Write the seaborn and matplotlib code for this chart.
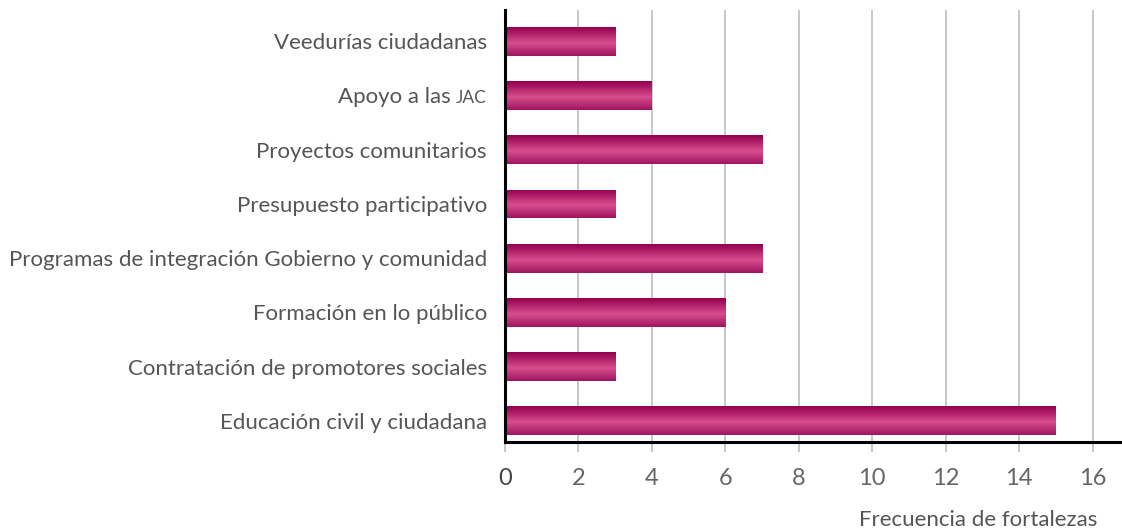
import numpy as np
import pandas as pd
import matplotlib
matplotlib.use("Agg")
import matplotlib.pyplot as plt
from matplotlib.colors import LinearSegmentedColormap
from matplotlib.transforms import offset_copy
import seaborn as sns

categories = [
    "Veedurías ciudadanas",
    "Apoyo a las JAC",
    "Proyectos comunitarios",
    "Presupuesto participativo",
    "Programas de integración Gobierno y comunidad",
    "Formación en lo público",
    "Contratación de promotores sociales",
    "Educación civil y ciudadana",
]
values = [3, 4, 7, 3, 7, 6, 3, 15]
xticks = [0, 2, 4, 6, 8, 10, 12, 14, 16]
xlabel = "Frecuencia de fortalezas"

df = pd.DataFrame({"cat": categories, "val": values})

sns.set_theme(style="white")
plt.rcParams["font.family"] = ["Lato", "DejaVu Sans"]
TXT = "#555555"
FS = 16

fig = plt.figure(figsize=(11.22, 5.29), dpi=100)
ax = fig.add_axes([505 / 1122, 87 / 529, 1 - 505 / 1122, (442 - 10) / 529])

sns.barplot(data=df, y="cat", x="val", orient="h", color="#C0306F",
            width=0.53, ax=ax, zorder=3)

XL = (0, 16.8)
YL = (7.39, -0.58)
ax.set_xlim(*XL)
ax.set_ylim(*YL)
ax.set_xticks(xticks)
ax.set_xticklabels([str(t) for t in xticks])
ax.grid(axis="x", color="#b8b8b8", lw=1.1, zorder=0)
ax.set_axisbelow(True)
ax.grid(axis="y", visible=False)

for s in ["top", "right"]:
    ax.spines[s].set_visible(False)
for s in ["left", "bottom"]:
    ax.spines[s].set_color("black")
    ax.spines[s].set_linewidth(2.2)
    ax.spines[s].set_zorder(5)

ax.tick_params(axis="x", length=7, width=1.1, color="#b8b8b8", pad=12,
               labelsize=17, labelcolor="#666666", bottom=True)
ax.tick_params(axis="y", length=0, pad=13, labelsize=FS, labelcolor=TXT)
ax.get_xticklabels()[0].set_color("#444444")

ax.set_ylabel("")
ax.set_xlabel("")
ax.text((1097 - 505) / 617, (442 - 520) / 432, xlabel, transform=ax.transAxes,
        ha="right", va="center", fontsize=FS, color=TXT)

# gradient fill on bars
cmap = LinearSegmentedColormap.from_list(
    "grad", [(0.0, "#930050"), (0.55, "#D84D8C"), (1.0, "#A01560")])
grad = np.linspace(0, 1, 64).reshape(-1, 1)
for p in ax.patches:
    x0, y0 = p.get_x(), p.get_y()
    w, h = p.get_width(), p.get_height()
    im = ax.imshow(grad, cmap=cmap, aspect="auto",
                   extent=[x0, x0 + w, y0 + h, y0], zorder=4,
                   interpolation="bilinear")
    im.set_clip_path(p)
    p.set_edgecolor("none")
ax.set_xlim(*XL)
ax.set_ylim(*YL)

# small caps "JAC"
idx = categories.index("Apoyo a las JAC")
ax.set_yticks(range(len(categories)))
ax.set_yticklabels([c if i != idx else "" for i, c in enumerate(categories)])
fig.canvas.draw()
r = fig.canvas.get_renderer()
base_dy = -5.6
trans = offset_copy(ax.get_yaxis_transform(), fig=fig, x=-13, y=base_dy, units="points")
t1 = ax.text(0, idx, "JAC", transform=trans, ha="right", va="baseline",
             fontsize=12.5, color=TXT)
fig.canvas.draw()
wpx = t1.get_window_extent(r).width
trans2 = offset_copy(ax.get_yaxis_transform(), fig=fig,
                     x=-13 - wpx * 72 / fig.dpi, y=base_dy, units="points")
ax.text(0, idx, "Apoyo a las ", transform=trans2, ha="right",
        va="baseline", fontsize=FS, color=TXT)

fig.savefig("out.png", dpi=100)
